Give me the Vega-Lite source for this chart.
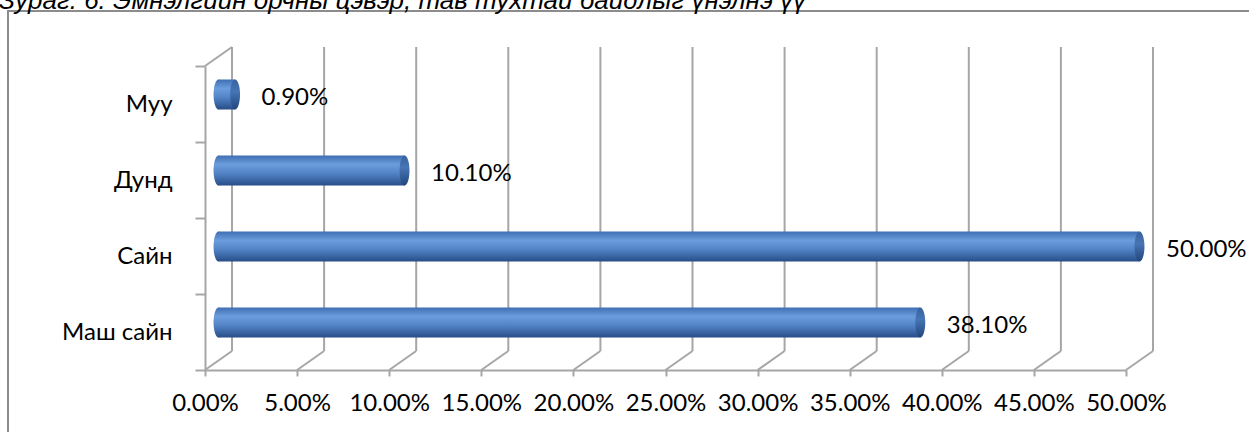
{
  "$schema": "https://vega.github.io/schema/vega-lite/v6.json",
  "width": 1241,
  "height": 421,
  "autosize": {"type": "none"},
  "padding": {"left": 8, "top": 11, "right": 0, "bottom": 0},
  "background": "white",
  "config": {
    "view": {"stroke": "#8c8c8c", "strokeWidth": 2, "strokeDash": [1241, 1662, 421]},
    "font": "Lato"
  },
  "title": {
    "text": "Зураг. 6. Эмнэлгийн орчны цэвэр, тав тухтай байдлыг үнэлнэ үү",
    "anchor": "start",
    "frame": "group",
    "font": "Liberation Sans",
    "fontStyle": "italic",
    "fontWeight": "normal",
    "fontSize": 26,
    "color": "black",
    "baseline": "alphabetic",
    "offset": 0,
    "dx": -9,
    "dy": 36
  },
  "datasets": {
    "resp": [
      {"cat": "Муу", "v": 0.009},
      {"cat": "Дунд", "v": 0.101},
      {"cat": "Сайн", "v": 0.5},
      {"cat": "Маш сайн", "v": 0.381}
    ],
    "ticks": [
      {"t": 0}, {"t": 0.05}, {"t": 0.1}, {"t": 0.15}, {"t": 0.2}, {"t": 0.25},
      {"t": 0.3}, {"t": 0.35}, {"t": 0.4}, {"t": 0.45}, {"t": 0.5}
    ]
  },
  "layer": [
    {
      "data": {"name": "ticks"},
      "mark": {"type": "rule", "color": "#a6a6a6", "strokeWidth": 2, "xOffset": 27, "x2Offset": 27, "yOffset": -57, "y2Offset": 19},
      "encoding": {
        "x": {"field": "t", "type": "quantitative", "title": null},
        "x2": {"field": "t"},
        "y": {"datum": "Муу", "type": "nominal"},
        "y2": {"datum": "Маш сайн"}
      }
    },
    {
      "data": {"name": "ticks"},
      "mark": {"type": "rule", "color": "#a6a6a6", "strokeWidth": 2, "x2Offset": 27, "yOffset": 38, "y2Offset": 19},
      "encoding": {
        "x": {"field": "t", "type": "quantitative", "title": null},
        "x2": {"field": "t"},
        "y": {"datum": "Маш сайн", "type": "nominal"},
        "y2": {"datum": "Маш сайн"}
      }
    },
    {
      "data": {"values": [{}]},
      "mark": {"type": "rule", "color": "#a6a6a6", "strokeWidth": 2, "x2Offset": 27, "yOffset": -38, "y2Offset": -57},
      "encoding": {
        "x": {"datum": 0, "type": "quantitative"},
        "x2": {"datum": 0},
        "y": {"datum": "Муу", "type": "nominal"},
        "y2": {"datum": "Муу"}
      }
    },
    {
      "data": {"name": "resp"},
      "mark": {
        "type": "bar",
        "size": 30,
        "xOffset": 13.5,
        "x2Offset": 13.5,
        "yOffset": -9.5,
        "color": {
          "gradient": "linear",
          "x1": 0, "y1": 0, "x2": 0, "y2": 1,
          "stops": [
            {"offset": 0, "color": "#3f6fb3"},
            {"offset": 0.3, "color": "#6b9ddd"},
            {"offset": 0.6, "color": "#5283c6"},
            {"offset": 1, "color": "#274d88"}
          ]
        }
      },
      "encoding": {
        "y": {
          "field": "cat",
          "type": "nominal",
          "sort": ["Муу", "Дунд", "Сайн", "Маш сайн"],
          "scale": {"domain": ["Муу", "Дунд", "Сайн", "Маш сайн"], "range": [55, 359], "paddingInner": 0, "paddingOuter": 0},
          "axis": {
            "orient": "left",
            "offset": -197,
            "title": null,
            "domainColor": "#a6a6a6",
            "domainWidth": 2,
            "tickColor": "#a6a6a6",
            "tickWidth": 2,
            "tickSize": 10,
            "tickBand": "extent",
            "labelFont": "Lato",
            "labelFontSize": 24,
            "labelColor": "black",
            "labelPadding": 23,
            "grid": false
          }
        },
        "x": {
          "field": "v",
          "type": "quantitative",
          "title": null,
          "scale": {"domain": [0, 0.5], "range": [197, 1118], "nice": false},
          "axis": {
            "orient": "bottom",
            "offset": -62,
            "values": [0, 0.05, 0.1, 0.15, 0.2, 0.25, 0.3, 0.35, 0.4, 0.45, 0.5],
            "format": ".2%",
            "title": null,
            "domainColor": "#a6a6a6",
            "domainWidth": 2,
            "tickColor": "#a6a6a6",
            "tickWidth": 2,
            "tickSize": 6,
            "labelFont": "Lato",
            "labelFontSize": 24,
            "labelColor": "black",
            "labelPadding": 15,
            "labelFlush": false,
            "labelOverlap": false,
            "grid": false
          }
        }
      }
    },
    {
      "data": {"name": "resp"},
      "mark": {
        "type": "point",
        "shape": "M0,-1 A0.33,1 0 1,1 0,1 A0.33,1 0 1,1 0,-1 Z",
        "size": 900,
        "filled": true,
        "opacity": 1,
        "strokeWidth": 0,
        "xOffset": 13.5,
        "yOffset": -9.5,
        "color": {
          "gradient": "linear",
          "x1": 0, "y1": 0, "x2": 0, "y2": 1,
          "stops": [
            {"offset": 0, "color": "#3f6fb3"},
            {"offset": 0.3, "color": "#6b9ddd"},
            {"offset": 0.6, "color": "#5283c6"},
            {"offset": 1, "color": "#274d88"}
          ]
        }
      },
      "encoding": {
        "x": {"datum": 0, "type": "quantitative"},
        "y": {"field": "cat", "type": "nominal"}
      }
    },
    {
      "data": {"name": "resp"},
      "mark": {
        "type": "point",
        "shape": "M0,-1 A0.33,1 0 1,1 0,1 A0.33,1 0 1,1 0,-1 Z",
        "size": 900,
        "filled": true,
        "opacity": 1,
        "strokeWidth": 0,
        "xOffset": 13.5,
        "yOffset": -9.5,
        "color": {
          "gradient": "linear",
          "x1": 0, "y1": 0, "x2": 0, "y2": 1,
          "stops": [
            {"offset": 0, "color": "#37629e"},
            {"offset": 0.4, "color": "#4675b5"},
            {"offset": 1, "color": "#22467c"}
          ]
        }
      },
      "encoding": {
        "x": {"field": "v", "type": "quantitative"},
        "y": {"field": "cat", "type": "nominal"}
      }
    },
    {
      "data": {"name": "resp"},
      "mark": {"type": "text", "align": "left", "baseline": "middle", "dx": 40, "dy": -6, "font": "Lato", "fontSize": 24, "color": "black"},
      "encoding": {
        "x": {"field": "v", "type": "quantitative"},
        "y": {"field": "cat", "type": "nominal"},
        "text": {"field": "v", "type": "quantitative", "format": ".2%"}
      }
    }
  ]
}
